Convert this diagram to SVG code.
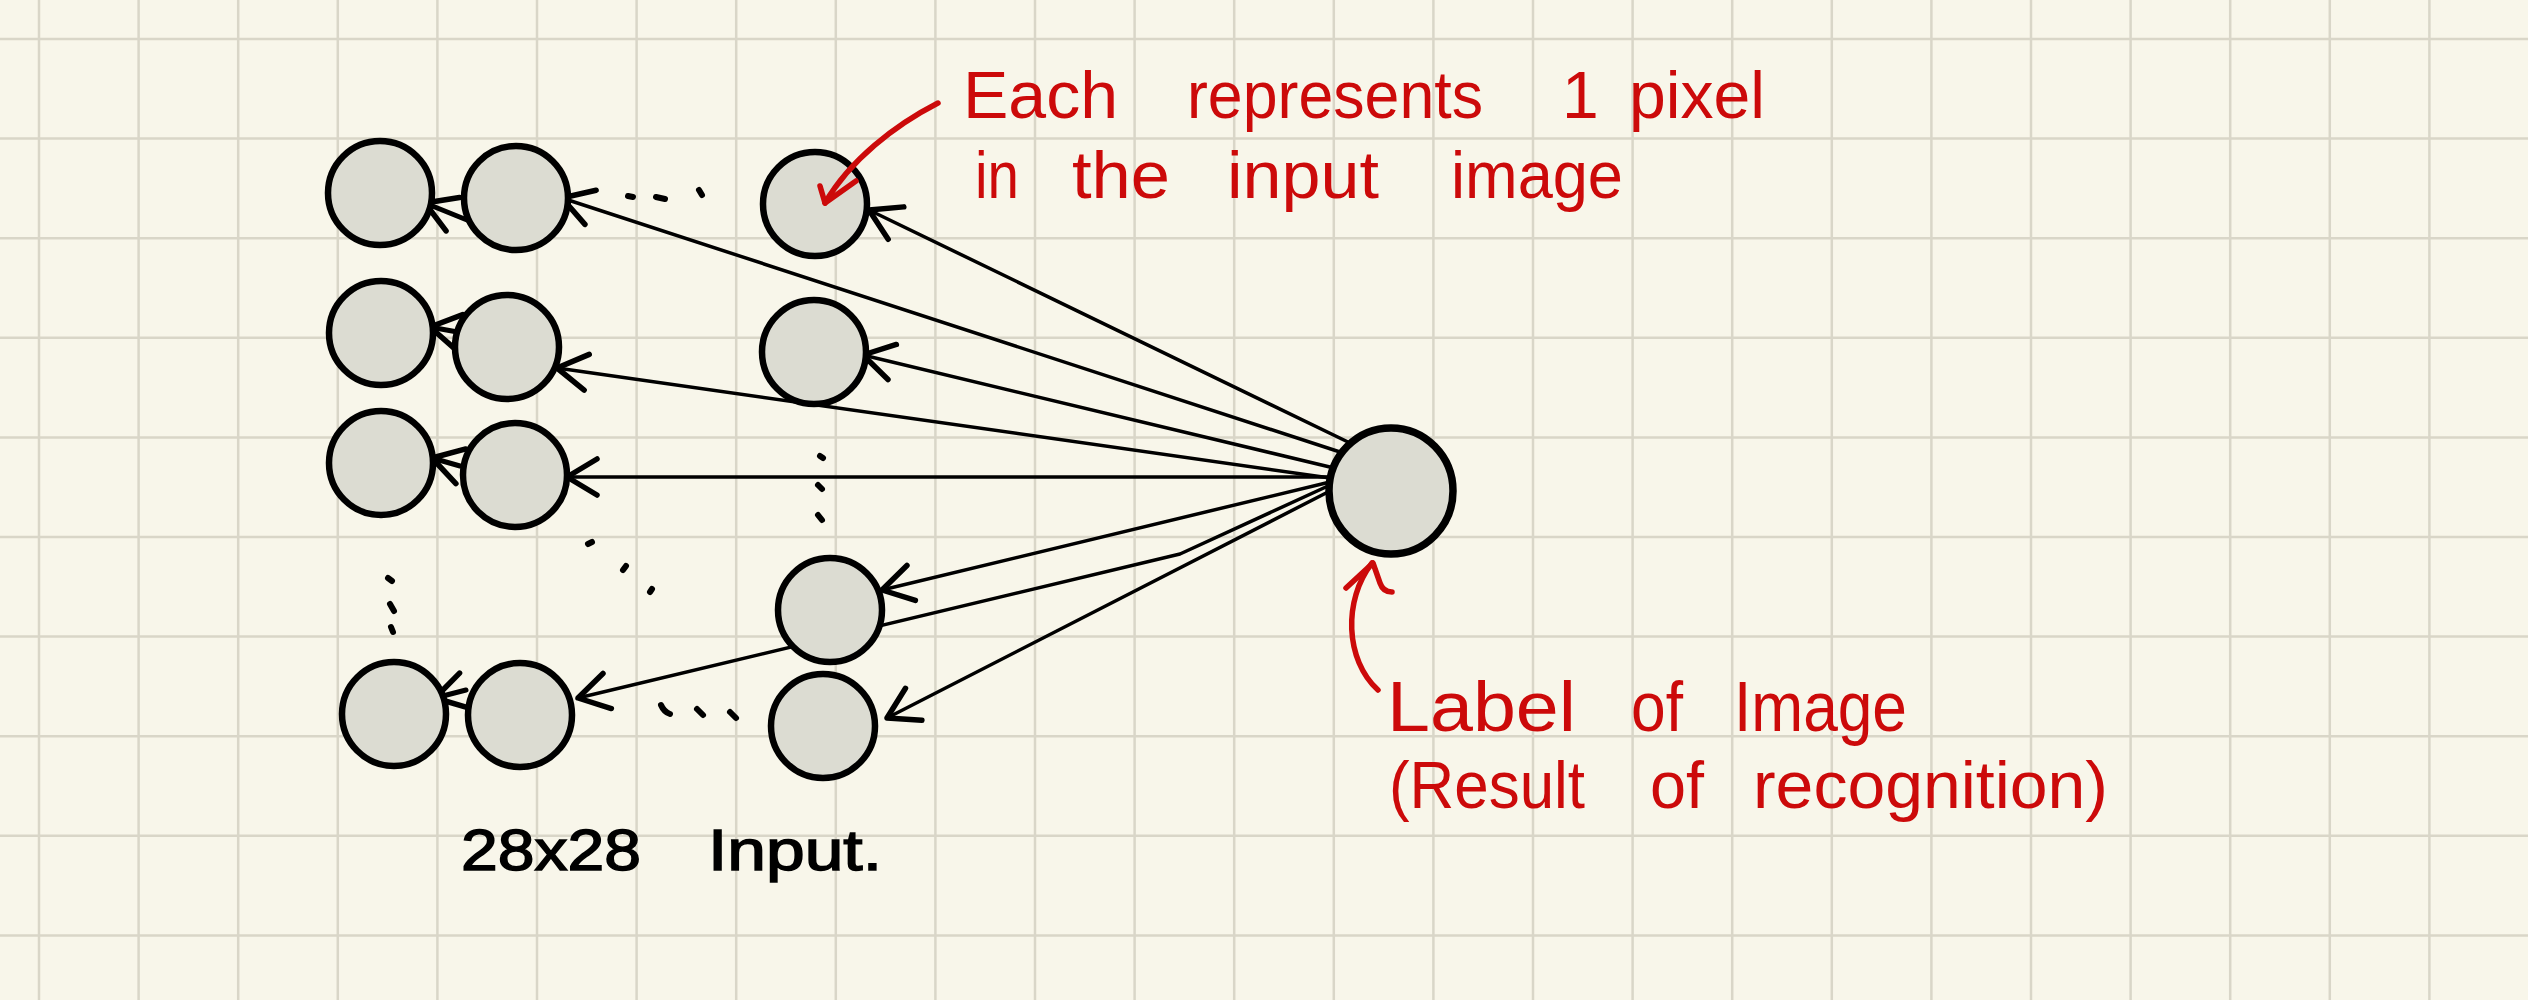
<svg xmlns="http://www.w3.org/2000/svg" width="2528" height="1000" viewBox="0 0 2528 1000">
<style>
.bg{fill:#f8f6ea}
.grid{stroke:#d9d6c8;stroke-width:2.5;fill:none}
.node{fill:#dcdcd2;stroke:#000;stroke-width:6.5}
.edge{fill:none;stroke:#000;stroke-width:3.5;stroke-linecap:round;stroke-linejoin:round}
.short{fill:none;stroke:#000;stroke-width:5;stroke-linecap:round}
.dot{stroke:#000;stroke-width:6;stroke-linecap:round;fill:none}
.red{fill:none;stroke:#cc0a0a;stroke-width:5.5;stroke-linecap:round;stroke-linejoin:round}
.rt{fill:#cc0a0a;font-family:"Liberation Sans","DejaVu Sans",sans-serif;font-size:66px}
.bt{fill:#000;font-family:"Liberation Sans","DejaVu Sans",sans-serif;font-size:58px;stroke:#000;stroke-width:1.5}
</style>
<defs>
<marker id="ah" viewBox="-40 -24 46 48" refX="0" refY="0" markerWidth="46" markerHeight="48" markerUnits="userSpaceOnUse" orient="auto">
<path d="M-30,-18 L0,0 L-30,18" fill="none" stroke="#000" stroke-width="5.5" stroke-linecap="round" stroke-linejoin="round"/>
</marker>
</defs>
<rect class="bg" x="0" y="0" width="2528" height="1000"/>
<path class="grid" d="M39,0V1000M138.6,0V1000M238.2,0V1000M337.8,0V1000M437.4,0V1000M537,0V1000M636.6,0V1000M736.2,0V1000M835.8,0V1000M935.4,0V1000M1035,0V1000M1134.6,0V1000M1234.2,0V1000M1333.8,0V1000M1433.4,0V1000M1533,0V1000M1632.6,0V1000M1732.2,0V1000M1831.8,0V1000M1931.4,0V1000M2031,0V1000M2130.6,0V1000M2230.2,0V1000M2329.8,0V1000M2429.4,0V1000M0,39H2528M0,138.6H2528M0,238.2H2528M0,337.8H2528M0,437.4H2528M0,537H2528M0,636.6H2528M0,736.2H2528M0,835.8H2528M0,935.4H2528"/>

<g id="connectors">
<path class="edge" marker-end="url(#ah)" d="M1348,442 L869,210"/>
<path class="edge" marker-end="url(#ah)" d="M1340,452 L562,198"/>
<path class="edge" marker-end="url(#ah)" d="M1334,468 L863,355"/>
<path class="edge" marker-end="url(#ah)" d="M1330,478 L557,368"/>
<path class="edge" marker-end="url(#ah)" d="M1340,477 L567,477"/>
<path class="edge" marker-end="url(#ah)" d="M1330,482 L882,590"/>
<path class="edge" marker-end="url(#ah)" d="M1328,486 L1180,554 L578,698"/>
<path class="edge" marker-end="url(#ah)" d="M1328,492 L887,718"/>
<path class="short" marker-end="url(#ah)" d="M467,220 L425,203"/>
<path class="short" marker-end="url(#ah)" d="M463,333 L430,327"/>
<path class="short" marker-end="url(#ah)" d="M460,466 L432,458"/>
<path class="short" marker-end="url(#ah)" d="M466,690 L435,698"/>
</g>

<g id="n-r1c1"><circle class="node" cx="380" cy="193" r="52"/></g>
<g id="n-r1c2"><circle class="node" cx="516" cy="198" r="52"/></g>
<g id="n-r2c1"><circle class="node" cx="381" cy="333" r="52"/></g>
<g id="n-r2c2"><circle class="node" cx="507" cy="347" r="52"/></g>
<g id="n-r3c1"><circle class="node" cx="381" cy="463" r="52"/></g>
<g id="n-r3c2"><circle class="node" cx="515" cy="475" r="52"/></g>
<g id="n-r4c1"><circle class="node" cx="394" cy="714" r="52"/></g>
<g id="n-r4c2"><circle class="node" cx="520" cy="715" r="52"/></g>
<g id="n-c3a"><circle class="node" cx="815" cy="204" r="52"/></g>
<g id="n-c3b"><circle class="node" cx="814" cy="352" r="52"/></g>
<g id="n-c3c"><circle class="node" cx="830" cy="610" r="52"/></g>
<g id="n-c3d"><circle class="node" cx="823" cy="726" r="52"/></g>
<g id="n-output"><ellipse class="node" cx="1391" cy="491" rx="62" ry="63" style="stroke-width:7.5"/></g>

<g id="ellipsis-dots">
<path class="dot" d="M628,196 L633,197"/>
<path class="dot" d="M656,197 L665,199"/>
<path class="dot" d="M699,190 L702,195"/>
<path class="dot" d="M820,456 L823,458"/>
<path class="dot" d="M818,485 L822,489"/>
<path class="dot" d="M818,515 L822,520"/>
<path class="dot" d="M588,544 L592,542"/>
<path class="dot" d="M623,570 L626,566"/>
<path class="dot" d="M650,592 L652,589"/>
<path class="dot" d="M388,578 L392,581"/>
<path class="dot" d="M390,604 L394,611"/>
<path class="dot" d="M391,627 L393,632"/>
<path class="dot" d="M661,705 Q664,712 670,714"/>
<path class="dot" d="M697,709 L703,715"/>
<path class="dot" d="M730,712 L736,718"/>
</g>

<g id="annotation-pixel">
<path class="red" d="M938,103 C895,125 850,160 825,203"/>
<path class="red" d="M820,186 L825,203 L856,181"/>
<text class="rt" x="963" y="118" textLength="155" lengthAdjust="spacingAndGlyphs">Each</text>
<text class="rt" x="1187" y="118" textLength="296" lengthAdjust="spacingAndGlyphs">represents</text>
<text class="rt" x="1562" y="118">1</text>
<text class="rt" x="1629" y="118" textLength="136" lengthAdjust="spacingAndGlyphs">pixel</text>
<text class="rt" x="975" y="198" textLength="44" lengthAdjust="spacingAndGlyphs">in</text>
<text class="rt" x="1072" y="198" textLength="98" lengthAdjust="spacingAndGlyphs">the</text>
<text class="rt" x="1227" y="198" textLength="152" lengthAdjust="spacingAndGlyphs">input</text>
<text class="rt" x="1451" y="198" textLength="172" lengthAdjust="spacingAndGlyphs">image</text>
</g>

<g id="annotation-label">
<path class="red" d="M1378,690 C1345,660 1343,600 1372,563"/>
<path class="red" d="M1346,588 L1373,563 L1380,583 Q1383,592 1392,592"/>
<text class="rt" style="font-size:70px" x="1387" y="731" textLength="189" lengthAdjust="spacingAndGlyphs">Label</text>
<text class="rt" style="font-size:70px" x="1631" y="731" textLength="52" lengthAdjust="spacingAndGlyphs">of</text>
<text class="rt" style="font-size:70px" x="1734" y="731" textLength="173" lengthAdjust="spacingAndGlyphs">Image</text>
<text class="rt" style="font-size:66px" x="1389" y="808" textLength="196" lengthAdjust="spacingAndGlyphs">(Result</text>
<text class="rt" style="font-size:66px" x="1650" y="808" textLength="54" lengthAdjust="spacingAndGlyphs">of</text>
<text class="rt" style="font-size:66px" x="1753" y="808" textLength="355" lengthAdjust="spacingAndGlyphs">recognition)</text>
</g>

<g id="caption">
<text class="bt" x="461" y="870" textLength="180" lengthAdjust="spacingAndGlyphs">28x28</text>
<text class="bt" x="708" y="870" textLength="174" lengthAdjust="spacingAndGlyphs">Input.</text>
</g>
</svg>
